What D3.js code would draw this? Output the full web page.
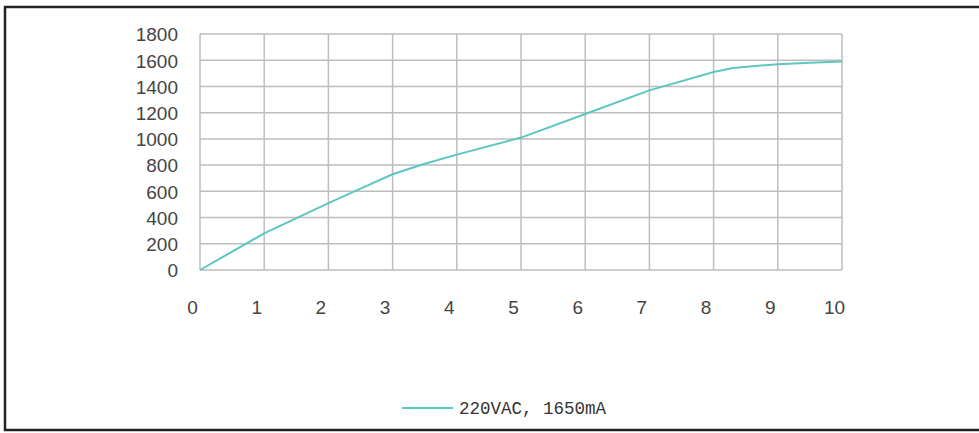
<!DOCTYPE html>
<html>
<head>
<meta charset="utf-8">
<script src="https://cdn.jsdelivr.net/npm/d3@7"></script>
<style>
  body { margin: 0; background: #fff; }
  svg { display: block; }
  .tick-label { fill: #444; font-family: "Liberation Sans", sans-serif; font-size: 19px; }
  .legend-label { fill: #333; font-family: "Liberation Mono", monospace; font-size: 17.5px; }
</style>
</head>
<body>
<div id="chart"></div>
<script>
// data
const seriesName = '220VAC, 1650mA';
const xValues = [0, 1, 2, 2.5, 3, 3.5, 4, 5, 6, 7, 8, 8.3, 9, 9.5, 10];
const yValues = [0, 280, 510, 620, 730, 810, 880, 1010, 1190, 1370, 1510, 1540, 1570, 1580, 1590];
const xTicks = [0, 1, 2, 3, 4, 5, 6, 7, 8, 9, 10];
const yTicks = [0, 200, 400, 600, 800, 1000, 1200, 1400, 1600, 1800];

const width = 979, height = 433;
const margin = {top: 34, right: 137, bottom: 163, left: 200};
const innerW = width - margin.left - margin.right;
const innerH = height - margin.top - margin.bottom;

const svg = d3.select('#chart').append('svg')
    .attr('width', width)
    .attr('height', height);

// outer frame
svg.append('rect')
    .attr('x', 5).attr('y', 7)
    .attr('width', 990).attr('height', 423)
    .attr('fill', 'none')
    .attr('stroke', '#222')
    .attr('stroke-width', 2.5);

const xScale = d3.scaleLinear().domain([0, 10]).range([0, innerW]);
const yScale = d3.scaleLinear().domain([0, 1800]).range([innerH, 0]);

const chart = svg.append('g')
    .attr('transform', `translate(${margin.left},${margin.top})`);

// grid
chart.append('g')
    .selectAll('line')
    .data(xTicks)
    .join('line')
    .attr('x1', d => xScale(d)).attr('x2', d => xScale(d))
    .attr('y1', 0).attr('y2', innerH)
    .attr('stroke', '#bdbdbd').attr('stroke-width', 1.5);

chart.append('g')
    .selectAll('line')
    .data(yTicks)
    .join('line')
    .attr('x1', 0).attr('x2', innerW)
    .attr('y1', d => yScale(d)).attr('y2', d => yScale(d))
    .attr('stroke', '#bdbdbd').attr('stroke-width', 1.5);

// axes labels (drawn by d3 axes, domain and ticks hidden)
const xAxis = d3.axisBottom(xScale).tickValues(xTicks).tickFormat(d3.format('d')).tickSize(0).tickPadding(0);
const xAxisG = chart.append('g')
    .attr('transform', `translate(-8,${innerH + 44})`)
    .call(xAxis);
xAxisG.select('.domain').remove();
xAxisG.selectAll('text').attr('class', 'tick-label').attr('dy', '0').attr('fill', null);

const yAxis = d3.axisLeft(yScale).tickValues(yTicks).tickFormat(d3.format('d')).tickSize(0).tickPadding(22);
const yAxisG = chart.append('g').call(yAxis);
yAxisG.select('.domain').remove();
yAxisG.selectAll('text').attr('class', 'tick-label').attr('dy', '0.36em').attr('fill', null);

// series line
const line = d3.line()
    .x((d, i) => xScale(xValues[i]))
    .y(d => yScale(d));

chart.append('path')
    .datum(yValues)
    .attr('fill', 'none')
    .attr('stroke', '#5cc6c2')
    .attr('stroke-width', 2)
    .attr('d', line);

// legend
const legend = svg.append('g').attr('transform', 'translate(402,408)');
legend.append('line')
    .attr('x1', 0).attr('x2', 51)
    .attr('stroke', '#5cc6c2').attr('stroke-width', 2);
legend.append('text')
    .attr('class', 'legend-label')
    .attr('x', 57).attr('y', 0).attr('dy', '0.36em')
    .text(seriesName);
</script>
</body>
</html>
